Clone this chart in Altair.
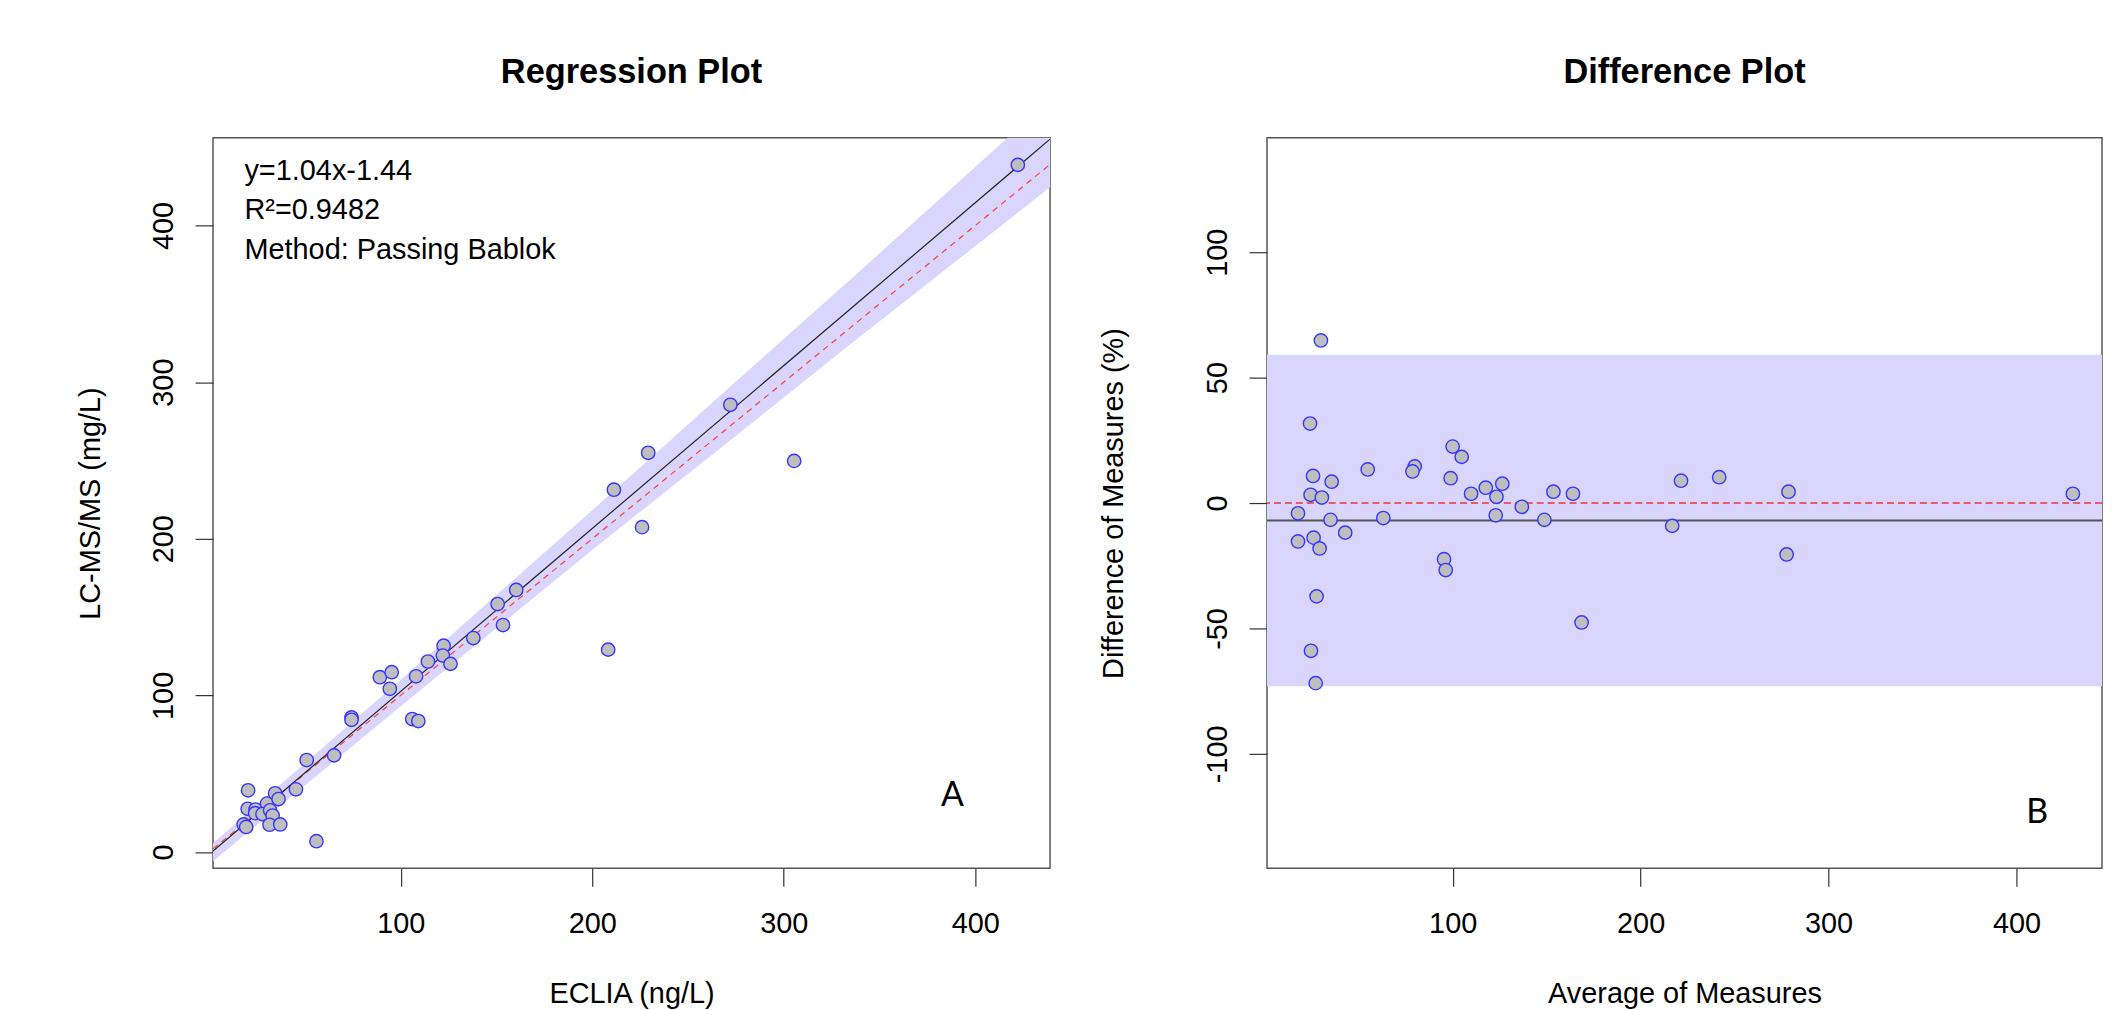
import altair as alt
import pandas as pd

# ---------------- data ----------------
# Regression panel: ECLIA (x) vs LC-MS/MS (y)
eclia = [20.3, 20.1, 24.2, 24.0, 30.2, 27.8, 31.8, 33.1, 31.5, 37.1, 34.4, 36.2,
         18.0, 19.3, 45.3, 50.9, 65.2, 74.3, 74.3, 56.0, 89.1, 95.3, 94.3, 106.0,
         109.2, 108.0, 114.2, 122.4, 122.0, 126.0, 137.9, 153.4, 150.6, 160.3,
         208.3, 211.3, 226.0, 229.2, 272.1, 305.4, 422.2]
lcms = [39.4, 27.6, 27.1, 24.8, 30.9, 24.2, 26.6, 23.3, 17.4, 17.6, 37.5, 33.8,
        17.6, 16.0, 40.0, 58.7, 61.7, 85.9, 84.4, 6.9, 111.6, 114.8, 104.2, 84.9,
        83.6, 112.2, 121.6, 131.7, 125.4, 120.1, 136.6, 144.9, 158.3, 167.3,
        129.2, 231.3, 207.4, 254.9, 285.5, 249.7, 438.7]

# Difference panel: average of measures vs difference (%)
avg_meas = [29.9, 24.1, 25.7, 35.6, 24.4, 30.4, 17.7, 35.0, 42.8, 17.7, 26.0, 29.2,
            27.6, 24.6, 27.1, 54.8, 63.1, 79.8, 78.6, 100.0, 104.8, 98.9, 95.4, 96.3,
            109.8, 117.6, 126.4, 123.3, 122.9, 136.8, 148.8, 153.6, 164.0, 168.6,
            216.8, 221.5, 241.8, 278.7, 277.7, 430.0]
diff_pct = [64.8, 31.7, 10.8, 8.5, 3.3, 2.2, -4.1, -6.7, -11.8, -15.3, -13.8, -18.1,
            -37.2, -58.9, -71.8, 13.4, -6.0, 14.6, 12.6, 22.5, 18.4, 9.9, -22.4, -26.7,
            3.7, 6.1, 7.7, 2.5, -4.9, -1.5, -6.7, 4.5, 3.7, -47.6,
            -9.1, 8.9, 10.3, 4.5, -20.5, 3.7]

# confidence band of the regression line
band_x = [2.0, 100.0, 203.5, 272.8, 336.7, 416.7, 439.0]
band_lo = [-5.9, 93.0, 196.3, 263.5, 326.1, 402.9, 424.4]
band_hi = [5.6, 110.0, 222.0, 298.0, 367.6, 455.8, 480.0]

slope, intercept = 1.04, -1.44
diff_mean = -7.0
loa_upper, loa_lower = 59.1, -73.0

ann_text = ["y=1.04x-1.44", "R\u00b2=0.9482", "Method: Passing Bablok"]
ann_x = [18.4, 18.4, 18.4]
ann_y = [429.2, 403.9, 378.5]

x_ticks_left = [100, 200, 300, 400]
y_ticks_left = [0, 100, 200, 300, 400]
x_ticks_right = [100, 200, 300, 400]
y_ticks_right = [-100, -50, 0, 50, 100]

L_X = [2.0, 439.0]
L_Y = [-10.4, 456.0]
R_X = [1.2, 445.5]
R_Y = [-145.6, 145.6]

FONT = "Liberation Sans"
PT_FILL = "#BEBEBE"
PT_STROKE = "#3535FF"
BAND = "#DAD5FC"

# ---------------- tables ----------------
reg_df = pd.DataFrame({"x": eclia, "y": lcms})
dif_df = pd.DataFrame({"x": avg_meas, "y": diff_pct})
band_df = pd.DataFrame({"x": band_x, "lo": band_lo, "hi": band_hi})
fit_df = pd.DataFrame({"x": L_X, "y": [slope * v + intercept for v in L_X]})
ident_df = pd.DataFrame({"x": L_X, "y": L_X})
ann_df = pd.DataFrame({"x": ann_x, "y": ann_y, "t": ann_text})
a_df = pd.DataFrame({"x": [388.0], "y": [35.7], "t": ["A"]})
b_df = pd.DataFrame({"x": [411.0], "y": [-123.5], "t": ["B"]})
loa_df = pd.DataFrame({"lo": [loa_lower], "hi": [loa_upper]})
mean_df = pd.DataFrame({"y": [diff_mean]})
zero_df = pd.DataFrame({"y": [0.0]})

W_L, W_R, H = 841, 839, 734
LABEL_EXPR = "'' + datum.value"


def xaxis(title, ticks):
    return alt.Axis(title=title, values=ticks, labelPadding=47,
                    labelBaseline="alphabetic", labelAlign="center",
                    titleY=135, titleBaseline="alphabetic",
                    labelFlush=False, labelOverlap=False, labelExpr=LABEL_EXPR)


def yaxis(title, ticks, title_x):
    return alt.Axis(title=title, values=ticks, labelAngle=270,
                    labelAlign="center", labelBaseline="alphabetic",
                    labelPadding=23, titleAngle=270, titleX=title_x,
                    titleY=H / 2, titleAlign="center",
                    titleBaseline="alphabetic", labelFlush=False,
                    labelOverlap=False, labelExpr=LABEL_EXPR)


lxs = alt.Scale(domain=L_X, nice=False, zero=False)
lys = alt.Scale(domain=L_Y, nice=False, zero=False)
rxs = alt.Scale(domain=R_X, nice=False, zero=False)
rys = alt.Scale(domain=R_Y, nice=False, zero=False)

# ---------------- left panel ----------------
band = alt.Chart(band_df).mark_area(color=BAND, opacity=1, clip=True).encode(
    x=alt.X("x:Q", scale=lxs, axis=xaxis("ECLIA (ng/L)", x_ticks_left)),
    y=alt.Y("lo:Q", scale=lys, axis=yaxis("LC-MS/MS (mg/L)", y_ticks_left, -114.5)),
    y2="hi:Q",
)
ident = alt.Chart(ident_df).mark_line(color="#FF3B3B", strokeWidth=1.2,
                                      strokeDash=[6, 5], clip=True).encode(
    x=alt.X("x:Q", scale=lxs), y=alt.Y("y:Q", scale=lys))
fit = alt.Chart(fit_df).mark_line(color="#222222", strokeWidth=1.2, clip=True).encode(
    x=alt.X("x:Q", scale=lxs), y=alt.Y("y:Q", scale=lys))
pts_l = alt.Chart(reg_df).mark_point(shape="circle", filled=True, fill=PT_FILL,
                                     stroke=PT_STROKE, strokeWidth=1.4, size=180,
                                     opacity=1, clip=True).encode(
    x=alt.X("x:Q", scale=lxs), y=alt.Y("y:Q", scale=lys))
ann = alt.Chart(ann_df).mark_text(align="left", baseline="alphabetic", font=FONT,
                                  fontSize=29, color="black").encode(
    x=alt.X("x:Q", scale=lxs), y=alt.Y("y:Q", scale=lys), text="t:N")
lab_a = alt.Chart(a_df).mark_text(align="center", baseline="middle", font="Lato",
                                  fontSize=34, color="black").encode(
    x=alt.X("x:Q", scale=lxs), y=alt.Y("y:Q", scale=lys), text="t:N")

left = alt.layer(band, ident, fit, pts_l, ann, lab_a).properties(
    width=W_L, height=H,
    title=alt.TitleParams("Regression Plot", baseline="alphabetic", offset=20.3,
                          anchor="middle"))

# ---------------- right panel ----------------
loa = alt.Chart(loa_df).mark_rect(color=BAND, opacity=1).encode(
    y=alt.Y("lo:Q", scale=rys,
            axis=yaxis("Difference of Measures (%)", y_ticks_right, -145)),
    y2="hi:Q",
)
xdummy = alt.Chart(dif_df).mark_point(opacity=0).encode(
    x=alt.X("x:Q", scale=rxs, axis=xaxis("Average of Measures", x_ticks_right)),
    y=alt.Y("y:Q", scale=rys))
zero = alt.Chart(zero_df).mark_rule(color="#F0303C", strokeWidth=1.5,
                                    strokeDash=[7, 4]).encode(
    y=alt.Y("y:Q", scale=rys))
mean = alt.Chart(mean_df).mark_rule(color="#555555", strokeWidth=2).encode(
    y=alt.Y("y:Q", scale=rys))
pts_r = alt.Chart(dif_df).mark_point(shape="circle", filled=True, fill=PT_FILL,
                                     stroke=PT_STROKE, strokeWidth=1.4, size=180,
                                     opacity=1, clip=True).encode(
    x=alt.X("x:Q", scale=rxs), y=alt.Y("y:Q", scale=rys))
lab_b = alt.Chart(b_df).mark_text(align="center", baseline="middle", font="Lato",
                                  fontSize=34, color="black").encode(
    x=alt.X("x:Q", scale=rxs), y=alt.Y("y:Q", scale=rys), text="t:N")

right = alt.layer(loa, xdummy, zero, mean, pts_r, lab_b).properties(
    width=W_R, height=H,
    title=alt.TitleParams("Difference Plot", baseline="alphabetic", offset=20.3,
                          anchor="middle"))

chart = alt.hconcat(left, right, spacing=218, bounds="flush").properties(
    padding={"left": 67, "top": 44, "right": 0, "bottom": 0}
).configure_view(stroke="#555555", strokeWidth=1.5).configure_axis(
    grid=False, domain=False, tickSize=18, tickColor="#333333", tickWidth=1.2,
    labelFont=FONT, labelFontSize=29, labelColor="black",
    titleFont=FONT, titleFontSize=29, titleFontWeight="normal", titleColor="black",
).configure_title(font=FONT, fontSize=34.5, fontWeight="bold", color="black")

chart.save("out.html", embed_options={"renderer": "svg", "actions": False})
